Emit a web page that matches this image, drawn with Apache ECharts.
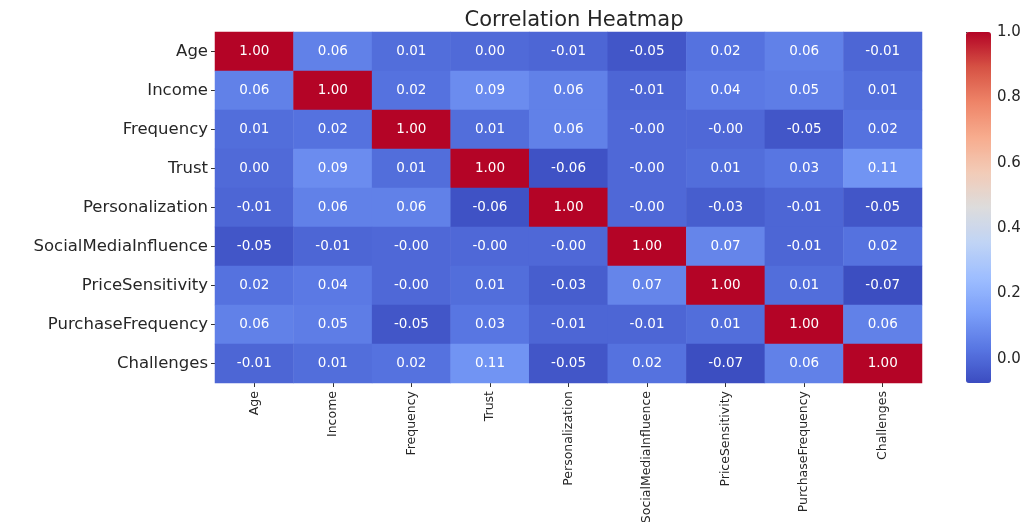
<!DOCTYPE html>
<html>
<head>
<meta charset="utf-8">
<script src="https://cdn.jsdelivr.net/npm/echarts@6/dist/echarts.min.js"></script>
<style>html,body{margin:0;padding:0;background:#fff;}#c{width:1030px;height:522px;}</style>
</head>
<body>
<div id="c"></div>
<script>
const variables = ['Age','Income','Frequency','Trust','Personalization','SocialMediaInfluence','PriceSensitivity','PurchaseFrequency','Challenges'];
// correlation rows (values shown as -0.00 are stored as tiny negatives)
const rowAge               = [1.00, 0.06, 0.01, 0.00, -0.01, -0.05, 0.02, 0.06, -0.01];
const rowIncome            = [0.06, 1.00, 0.02, 0.09, 0.06, -0.01, 0.04, 0.05, 0.01];
const rowFrequency         = [0.01, 0.02, 1.00, 0.01, 0.06, -0.003, -0.003, -0.05, 0.02];
const rowTrust             = [0.00, 0.09, 0.01, 1.00, -0.06, -0.003, 0.01, 0.03, 0.11];
const rowPersonalization   = [-0.01, 0.06, 0.06, -0.06, 1.00, -0.003, -0.03, -0.01, -0.05];
const rowSocialMedia       = [-0.05, -0.01, -0.003, -0.003, -0.003, 1.00, 0.07, -0.01, 0.02];
const rowPriceSensitivity  = [0.02, 0.04, -0.003, 0.01, -0.03, 0.07, 1.00, 0.01, -0.07];
const rowPurchaseFrequency = [0.06, 0.05, -0.05, 0.03, -0.01, -0.01, 0.01, 1.00, 0.06];
const rowChallenges        = [-0.01, 0.01, 0.02, 0.11, -0.05, 0.02, -0.07, 0.06, 1.00];
const colorbarTicks = [0.0, 0.2, 0.4, 0.6, 0.8, 1.0];
const scaleMin = -0.074, scaleMax = 1.0;

const rows = [rowAge,rowIncome,rowFrequency,rowTrust,rowPersonalization,rowSocialMedia,rowPriceSensitivity,rowPurchaseFrequency,rowChallenges];
const data = [];
rows.forEach((r, yi) => r.forEach((v, xi) => data.push([xi, yi, v])));

const FONT = 'DejaVu Sans';
const coolwarm = ['#3b4cc0','#5977e3','#7b9ff9','#9ebeff','#c0d4f5','#dddcdc','#f2cbb7','#f7ac8e','#ee8468','#d65244','#b40426'];

const chart = echarts.init(document.getElementById('c'), null, {renderer:'canvas'});
chart.setOption({
  animation: false,
  backgroundColor: '#fff',
  title: {
    text: 'Correlation Heatmap', left: 569, top: 5, textAlign: 'center',
    textStyle: {fontFamily: FONT, fontSize: 21, fontWeight: 'normal', color: '#262626'}
  },
  grid: [
    {left: 215, top: 32, width: 707, height: 351, outerBoundsMode: 'none', containLabel: false},
    {left: 966, top: 32, width: 25, height: 351, outerBoundsMode: 'none', containLabel: false}
  ],
  xAxis: [
    {type: 'category', data: variables, gridIndex: 0, position: 'bottom',
     axisLine: {show: false}, splitLine: {show: false},
     axisTick: {show: true, alignWithLabel: true, length: 4, lineStyle: {color: '#333'}},
     axisLabel: {rotate: 90, interval: 0, margin: 8, fontFamily: FONT, fontSize: 12.5, color: '#262626'}},
    {type: 'value', gridIndex: 1, show: false, min: 0, max: 1}
  ],
  yAxis: [
    {type: 'category', data: variables, gridIndex: 0, inverse: true,
     axisLine: {show: false}, splitLine: {show: false},
     axisTick: {show: true, alignWithLabel: true, length: 4, lineStyle: {color: '#333'}},
     axisLabel: {interval: 0, margin: 7, fontFamily: FONT, fontSize: 16.5, color: '#262626'}},
    {type: 'value', gridIndex: 1, position: 'right', min: scaleMin, max: scaleMax,
     axisLine: {show: false}, splitLine: {show: false},
     axisTick: {show: true, length: 4, lineStyle: {color: '#333'}, customValues: colorbarTicks},
     axisLabel: {margin: 6, fontFamily: FONT, fontSize: 15, color: '#262626', customValues: colorbarTicks,
                 formatter: v => Number(v).toFixed(1)}}
  ],
  visualMap: {
    type: 'continuous', min: scaleMin, max: scaleMax, seriesIndex: 0,
    orient: 'vertical', left: 966, top: 32, itemWidth: 25, itemHeight: 351,
    padding: 0, calculable: false, text: null, showLabel: false,
    inRange: {color: coolwarm}
  },
  series: [{
    type: 'heatmap', xAxisIndex: 0, yAxisIndex: 0, data: data,
    itemStyle: {borderWidth: 0},
    label: {show: true, fontFamily: FONT, fontSize: 13.5, color: '#fff',
            formatter: p => p.value[2].toFixed(2)},
    emphasis: {disabled: true}
  }]
});
</script>
</body>
</html>
